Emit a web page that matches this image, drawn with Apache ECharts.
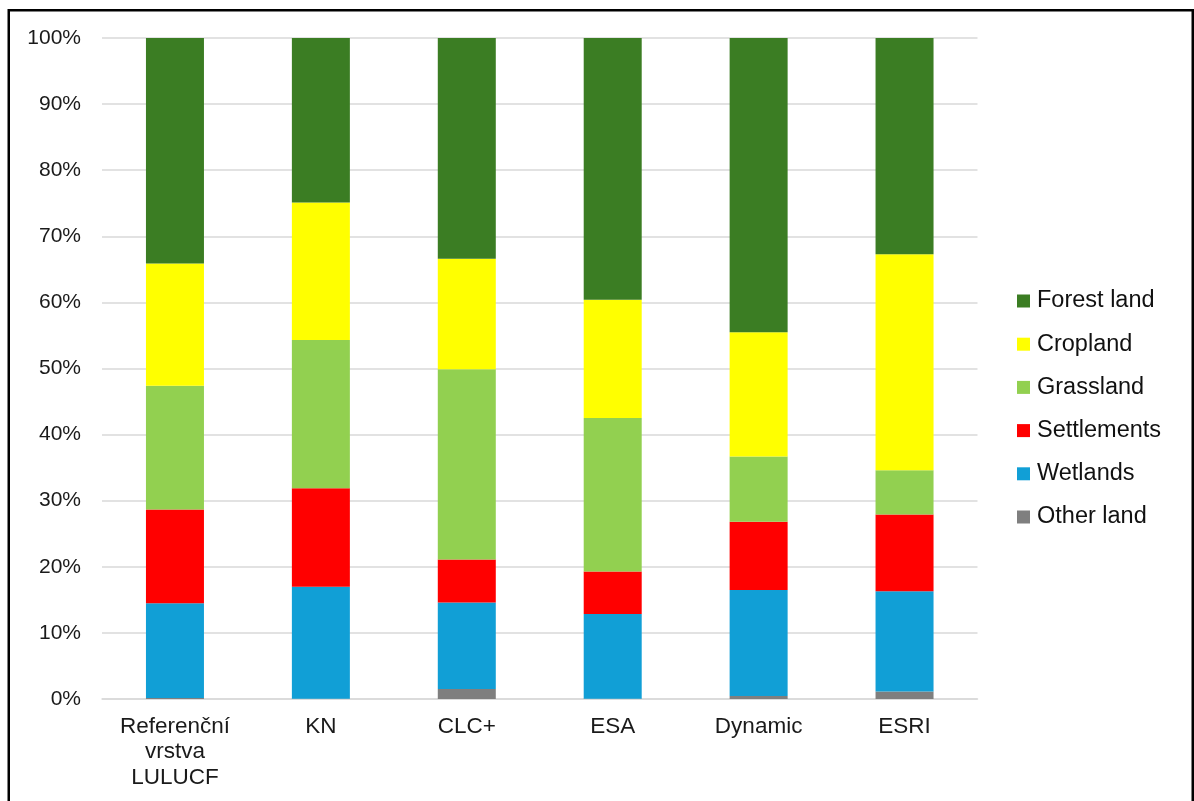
<!DOCTYPE html>
<html>
<head>
<meta charset="utf-8">
<script src="https://cdn.jsdelivr.net/npm/echarts@6/dist/echarts.min.js"></script>
<style>
html,body{margin:0;padding:0;background:#fff;}
#chart{width:1194px;height:801px;}
</style>
</head>
<body>
<div id="chart"></div>
<script>
const categories = ['Referenční\nvrstva\nLULUCF', 'KN', 'CLC+', 'ESA', 'Dynamic', 'ESRI'];
const otherLand   = [0.15, 0.05, 1.5, 0.05, 0.45, 1.15];
const wetlands    = [14.35, 16.95, 13.1, 12.8, 16.05, 15.15];
const settlements = [14.15, 14.9, 6.5, 6.45, 10.3, 11.6];
const grassland   = [18.75, 22.4, 28.8, 23.2, 9.9, 6.7];
const cropland    = [18.5, 20.8, 16.7, 17.9, 18.8, 32.7];
const forestLand  = [34.1, 24.9, 33.4, 39.6, 44.5, 32.7];
const yTicks = [0, 10, 20, 30, 40, 50, 60, 70, 80, 90, 100];

const FONT = 'Liberation Sans, Arial, sans-serif';
const seriesDefs = [
  ['Other land', otherLand, '#7f7f7f'],
  ['Wetlands', wetlands, '#119fd6'],
  ['Settlements', settlements, '#ff0000'],
  ['Grassland', grassland, '#92d050'],
  ['Cropland', cropland, '#ffff00'],
  ['Forest land', forestLand, '#3b7d23']
];

const chart = echarts.init(document.getElementById('chart'), null, {renderer: 'canvas'});
chart.setOption({
  animation: false,
  backgroundColor: '#fff',
  graphic: [{
    type: 'rect',
    shape: {x: 8.75, y: 10.25, width: 1184, height: 1000},
    style: {fill: 'none', stroke: '#000', lineWidth: 2.5},
    silent: true, z: 100
  }],
  grid: {left: 102, right: 216.5, top: 38, bottom: 102, containLabel: false},
  legend: {
    orient: 'vertical',
    left: 1012, top: 284,
    itemWidth: 13, itemHeight: 13, itemGap: 19.2,
    icon: 'rect',
    data: ['Forest land', 'Cropland', 'Grassland', 'Settlements', 'Wetlands', 'Other land'],
    textStyle: {fontFamily: FONT, fontSize: 23.5, color: '#111', lineHeight: 24, padding: [0,0,0,2]}
  },
  xAxis: {
    type: 'category',
    data: categories,
    axisLine: {lineStyle: {color: '#d9d9d9', width: 1.5}},
    axisTick: {show: false},
    axisLabel: {fontFamily: FONT, fontSize: 22.5, color: '#1a1a1a', margin: 15, lineHeight: 25.5, interval: 0}
  },
  yAxis: {
    type: 'value',
    min: yTicks[0], max: yTicks[yTicks.length - 1], interval: 10,
    axisLine: {show: false},
    axisTick: {show: false},
    splitLine: {lineStyle: {color: '#d9d9d9', width: 1.5}},
    axisLabel: {fontFamily: FONT, fontSize: 21, color: '#1a1a1a', margin: 21, formatter: '{value}%'}
  },
  series: seriesDefs.map(([name, data, color]) => ({
    name: name,
    type: 'bar',
    stack: 'total',
    barWidth: 58,
    data: data,
    itemStyle: {color: color}
  }))
});
</script>
</body>
</html>
